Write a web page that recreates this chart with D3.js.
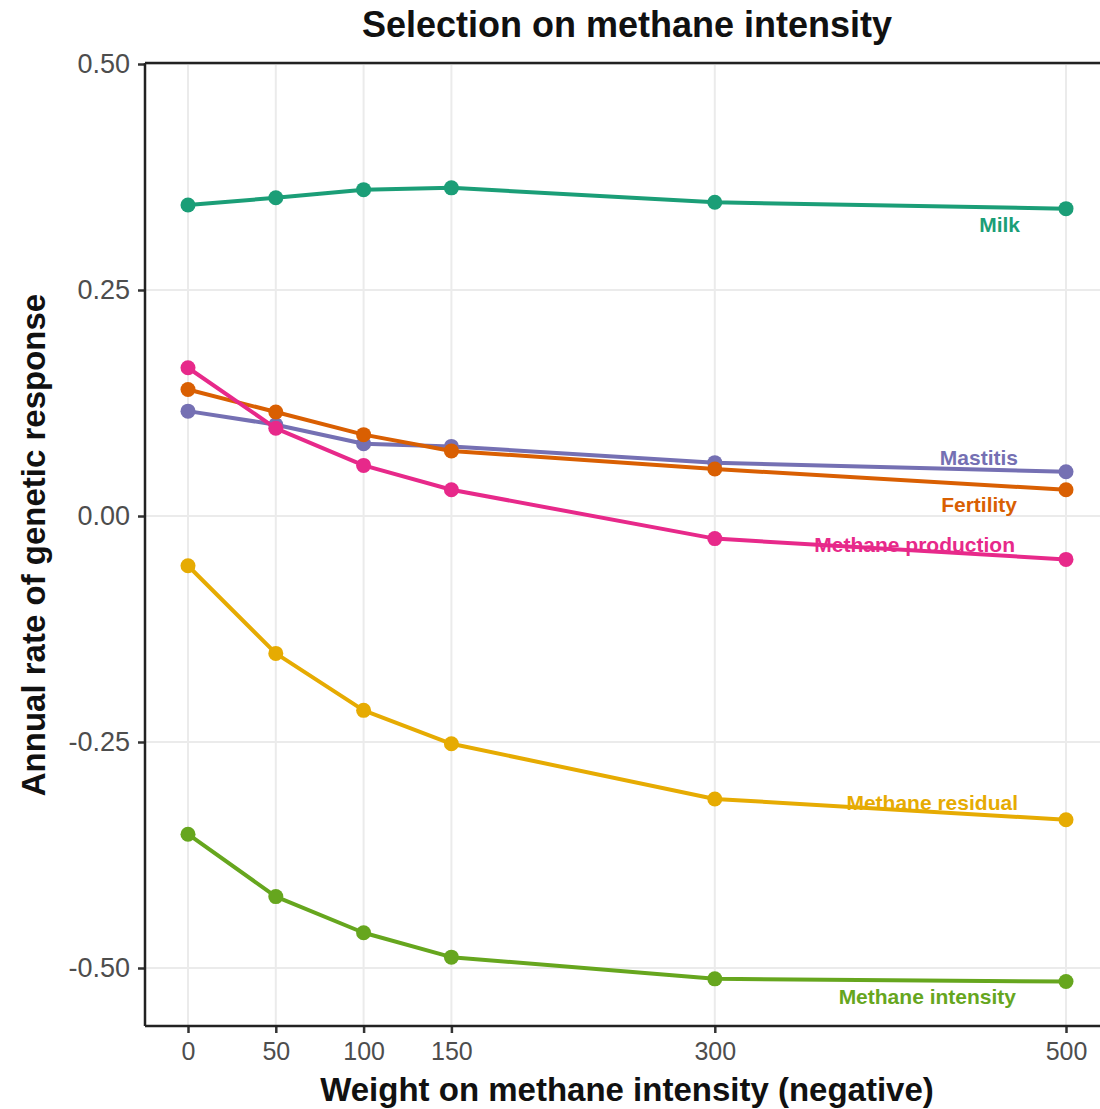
<!DOCTYPE html>
<html><head><meta charset="utf-8">
<script src="https://cdn.jsdelivr.net/npm/d3@7"></script>
<style>body{margin:0;background:#fff}svg{display:block}</style>
</head><body>
<svg id="c" width="1100" height="1109"></svg>
<script>
const weights = [0, 50, 100, 150, 300, 500];
const xTicks = [0, 50, 100, 150, 300, 500];
const yTicks = [-0.50, -0.25, 0.00, 0.25, 0.50];
const milk = [0.344, 0.352, 0.361, 0.363, 0.347, 0.340];
const mastitis = [0.116, 0.101, 0.080, 0.077, 0.059, 0.049];
const fertility = [0.140, 0.115, 0.090, 0.072, 0.052, 0.029];
const methaneProduction = [0.164, 0.097, 0.056, 0.029, -0.025, -0.048];
const methaneResidual = [-0.055, -0.152, -0.215, -0.252, -0.313, -0.336];
const methaneIntensity = [-0.352, -0.421, -0.461, -0.488, -0.512, -0.515];
const seriesNames = ["Milk","Mastitis","Fertility","Methane production","Methane residual","Methane intensity"];
const seriesValues = [milk, mastitis, fertility, methaneProduction, methaneResidual, methaneIntensity];
const colors = ["#1B9E77","#7570B3","#D95F02","#E7298A","#E6AB02","#66A61E"];

(function(){
const labelX = [1020, 1018, 1017, 1015, 1018, 1016];
const labelDy = [17, -13, 18, -12, -14, 15];

const svg = d3.select("#c");
const pL = 145, pR = 1100, pT = 63, pB = 1026;
const x = d3.scaleLinear().domain([0, 500]).range([188, 1066]);
const y = d3.scaleLinear().domain([-0.5, 0.5]).range([968, 64]);
const FF = "Liberation Sans, Arial, sans-serif";

const g = svg.append("g");
g.selectAll(".gx").data(xTicks).enter().append("line")
  .attr("x1", d=>x(d)).attr("x2", d=>x(d)).attr("y1", pT).attr("y2", pB)
  .attr("stroke", "#ebebeb").attr("stroke-width", 2);
g.selectAll(".gy").data(yTicks).enter().append("line")
  .attr("x1", pL).attr("x2", pR).attr("y1", d=>y(d)).attr("y2", d=>y(d))
  .attr("stroke", "#ebebeb").attr("stroke-width", 2);

const xAxis = d3.axisBottom(x).tickValues(xTicks).tickSize(7).tickPadding(9).tickFormat(d3.format("d"));
const yAxis = d3.axisLeft(y).tickValues(yTicks).tickSize(7).tickPadding(8).tickFormat(d=>d3.format(".2f")(d).replace("−","-"));
const gx = svg.append("g").attr("transform", `translate(0,${pB})`).call(xAxis);
const gy = svg.append("g").attr("transform", `translate(${pL},0)`).call(yAxis);
[gx, gy].forEach(a=>{
  a.select(".domain").remove();
  a.selectAll(".tick line").attr("stroke", "#333").attr("stroke-width", 2.5);
  a.selectAll(".tick text").attr("fill", "#4d4d4d").style("font-family", FF);
});
gx.selectAll(".tick text").style("font-size", "25px");
gy.selectAll(".tick text").style("font-size", "27px");
svg.append("line").attr("x1", pL).attr("x2", pL).attr("y1", pT).attr("y2", pB).attr("stroke", "#222").attr("stroke-width", 2.5);
svg.append("line").attr("x1", pL).attr("x2", pR).attr("y1", pB).attr("y2", pB).attr("stroke", "#222").attr("stroke-width", 2.5);
svg.append("line").attr("x1", pL).attr("x2", pR).attr("y1", pT).attr("y2", pT).attr("stroke", "#222").attr("stroke-width", 2.5);

const line = d3.line().x((d,i)=>x(weights[i])).y(d=>y(d));
seriesValues.forEach((vals, k)=>{
  svg.append("path").datum(vals).attr("d", line).attr("fill","none")
    .attr("stroke", colors[k]).attr("stroke-width", 4).attr("stroke-linejoin","round");
  svg.selectAll(null).data(vals).enter().append("circle")
    .attr("cx", (d,i)=>x(weights[i])).attr("cy", d=>y(d)).attr("r", 7.5).attr("fill", colors[k]);
});
seriesValues.forEach((vals, k)=>{
  const ly = y(vals[4]) + (y(vals[5]) - y(vals[4])) * ((labelX[k]-x(300))/(x(500)-x(300)));
  svg.append("text").attr("x", labelX[k]).attr("y", ly + labelDy[k]).attr("text-anchor","end")
    .attr("dominant-baseline","central")
    .attr("fill", colors[k]).style("font-family", FF)
    .style("font-size","21px").style("font-weight","bold").text(seriesNames[k]);
});

svg.append("text").attr("x", 627).attr("y", 37).attr("text-anchor","middle")
  .style("font-family", FF).style("font-size","36px").style("font-weight","bold")
  .attr("fill","#111").text("Selection on methane intensity");
svg.append("text").attr("x", 627).attr("y", 1101).attr("text-anchor","middle")
  .style("font-family", FF).style("font-size","33px").style("font-weight","bold")
  .attr("fill","#111").text("Weight on methane intensity (negative)");
svg.append("text").attr("transform","translate(45,545) rotate(-90)").attr("text-anchor","middle")
  .style("font-family", FF).style("font-size","33px").style("font-weight","bold")
  .attr("fill","#111").text("Annual rate of genetic response");
})();
</script>
</body></html>
